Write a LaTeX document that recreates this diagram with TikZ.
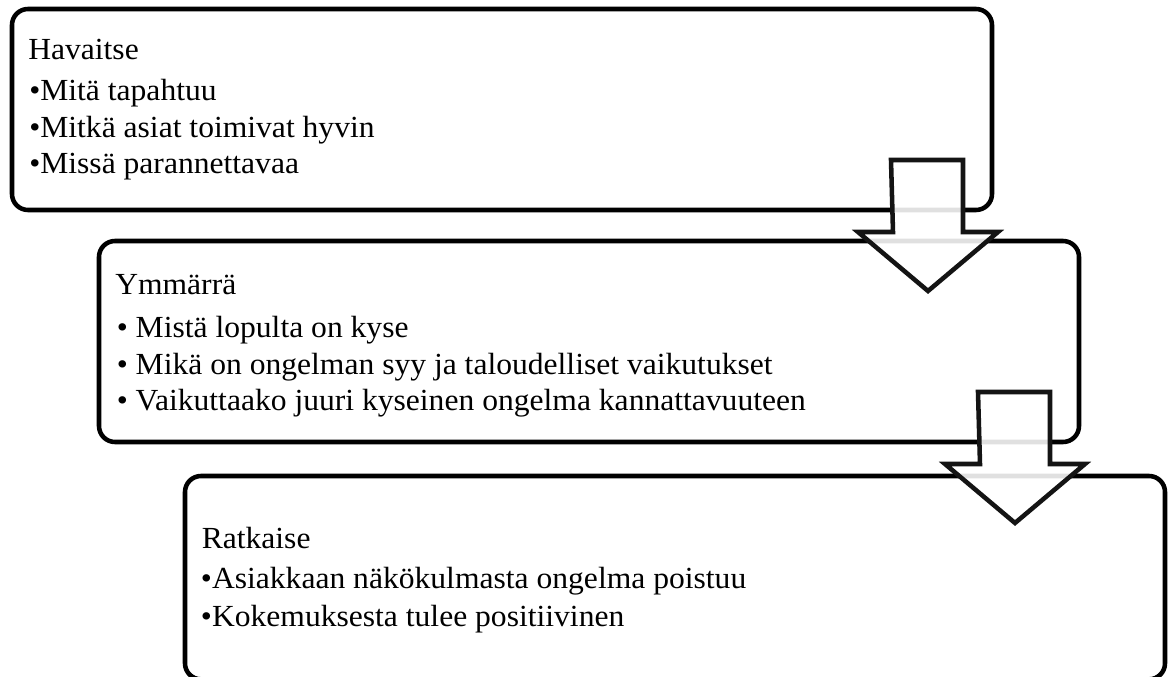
\documentclass[tikz,border=0pt]{standalone}
\usepackage{fontspec}
\setmainfont{Liberation Serif}[FakeStretch=1.03]
\usetikzlibrary{calc}
\begin{document}
\begin{tikzpicture}[x=0.75pt,y=-0.75pt,
  stage/.style={draw=black, line width=3.4pt, rounded corners=12pt, fill=white,
    minimum width=735pt, minimum height=150.75pt, inner sep=0pt, outer sep=0pt,
    anchor=north west},
  txt/.style={anchor=base west, inner sep=0pt, font=\fontsize{23}{27}\selectfont},
  flow/.style={draw=black!92, line width=3.4pt, fill=white, fill opacity=0.88,
    line join=miter}]
\useasboundingbox (0,0) rectangle (1168,677);

% the three stages
\node[stage] (box1) at (12,9) {};
\node[stage] (box2) at (99,241) {};
\node[stage, minimum height=152.5pt] (box3) at (185,476) {};

% stage 1
\node[txt] (h1) at (28,60) {Havaitse};
\node[txt] (b11) at (29,100.5) {•Mitä tapahtuu};
\node[txt] (b12) at (29,137.5) {•Mitkä asiat toimivat hyvin};
\node[txt] (b13) at (29,174) {•Missä parannettavaa};

% stage 2
\node[txt] (h2) at (115,295) {Ymmärrä};
\node[txt] (b21) at (116.5,337.3) {• Mistä lopulta on kyse};
\node[txt] (b22) at (116.5,374.3) {• Mikä on ongelman syy ja taloudelliset vaikutukset};
\node[txt] (b23) at (116.5,410.7) {• Vaikuttaako juuri kyseinen ongelma kannattavuuteen};

% stage 3
\node[txt] (h3) at (201.5,548.3) {Ratkaise};
\node[txt] (b31) at (200.7,588.3) {•Asiakkaan näkökulmasta ongelma poistuu};
\node[txt] (b32) at (200.7,626.7) {•Kokemuksesta tulee positiivinen};

% block arrows leading from each stage to the next
\foreach \a in {box1,box2} {
  \draw[flow] ($(\a.south east)+(-101,-50)$) -- ++(72,0) -- ++(0,72) -- ++(35,0)
    -- ++(-70,59) -- ++(-70,-59) -- ++(35,0) -- cycle;
}
\end{tikzpicture}
\end{document}
